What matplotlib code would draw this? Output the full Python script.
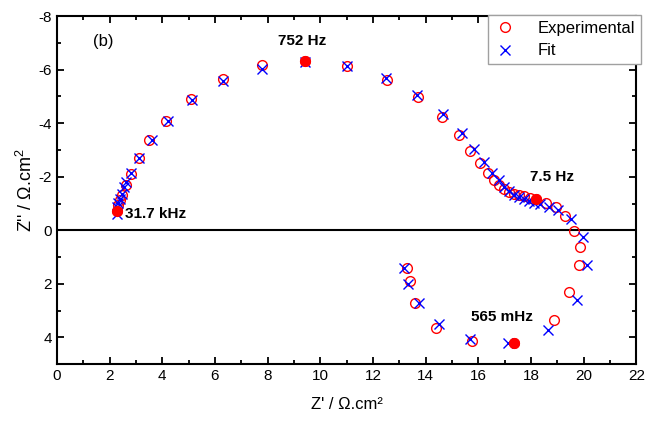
import matplotlib
matplotlib.use("Agg")
import matplotlib.pyplot as plt
from matplotlib.ticker import MultipleLocator

plt.rcParams['font.family'] = ['Liberation Sans', 'DejaVu Sans']
plt.rcParams['axes.unicode_minus'] = False
plt.rcParams['mathtext.fontset'] = 'custom'
plt.rcParams['mathtext.rm'] = 'Liberation Sans'

# Experimental data (Z', Z'')
exp_zr = [2.27, 2.33, 2.39, 2.46, 2.61, 2.80, 3.12, 3.51, 4.14, 5.09, 6.30, 7.79, 9.42,
          11.03, 12.53, 13.73, 14.62, 15.27, 15.69, 16.05, 16.36, 16.58, 16.77, 16.96,
          17.15, 17.34, 17.53, 17.72, 17.97, 18.19, 18.58, 18.96, 19.30, 19.62, 19.85,
          19.83, 19.46, 18.88, 17.37, 15.76, 14.40, 13.60, 13.39, 13.29]
exp_zi = [-0.72, -0.93, -1.12, -1.31, -1.68, -2.12, -2.70, -3.36, -4.10, -4.90, -5.64, -6.17, -6.33,
          -6.14, -5.63, -4.96, -4.24, -3.55, -2.95, -2.52, -2.14, -1.87, -1.68, -1.53,
          -1.43, -1.37, -1.33, -1.27, -1.22, -1.16, -1.02, -0.87, -0.52, 0.02, 0.62,
          1.30, 2.29, 3.36, 4.21, 4.14, 3.64, 2.72, 1.91, 1.41]

# Fit data
fit_zr = [2.27, 2.29, 2.34, 2.39, 2.47, 2.55, 2.62, 2.81, 3.13, 3.60, 4.23, 5.14, 6.32, 7.78,
          9.42, 11.03, 12.50, 13.69, 14.65, 15.37, 15.84, 16.22, 16.54, 16.77, 16.96, 17.15,
          17.34, 17.53, 17.72, 17.93, 18.12, 18.35, 18.67, 19.02, 19.52, 19.97, 20.12, 19.74,
          18.63, 17.12, 15.67, 14.49, 13.75, 13.35, 13.18]
fit_zi = [-0.62, -0.87, -1.01, -1.16, -1.37, -1.61, -1.79, -2.14, -2.70, -3.36, -4.09, -4.86, -5.57, -6.04,
          -6.29, -6.13, -5.69, -5.05, -4.34, -3.65, -3.05, -2.55, -2.14, -1.87, -1.62, -1.47,
          -1.33, -1.25, -1.17, -1.10, -1.03, -0.97, -0.87, -0.77, -0.44, 0.25, 1.31, 2.62,
          3.71, 4.21, 4.05, 3.49, 2.72, 2.02, 1.40]

# Marked frequencies
freq_labels = ["31.7 kHz", "752 Hz", "7.5 Hz", "565 mHz"]
freq_zr = [2.27, 9.42, 18.19, 17.37]
freq_zi = [-0.72, -6.33, -1.16, 4.21]

fig = plt.figure(figsize=(6.46, 4.23), dpi=100)
ax = fig.add_axes([0.088, 0.139, 0.897, 0.823])

ax.axhline(0, color='black', lw=1.5, zorder=1)
ax.plot(exp_zr, exp_zi, 'o', mfc='none', mec='red', ms=7, mew=1.0, label='Experimental', zorder=3)
ax.plot(fit_zr, fit_zi, 'x', color='blue', ms=7, mew=1.0, label='Fit', zorder=4)
ax.plot(freq_zr, freq_zi, 'o', color='red', ms=7, zorder=5)

offsets = [(6, -2, 'left'), (-2, 14, 'center'), (-4, 16, 'left'), (-31, 19, 'left')]
for lab, x, y, (dx, dy, ha) in zip(freq_labels, freq_zr, freq_zi, offsets):
    ax.annotate(lab, (x, y), xytext=(dx, dy), textcoords='offset points', ha=ha, va='center',
                fontsize=11, fontweight='bold')

ax.text(0.062, 0.928, '(b)', transform=ax.transAxes, fontsize=12, va='center', ha='left')

ax.set_xlim(0, 22)
ax.set_ylim(5, -8)
ax.xaxis.set_major_locator(MultipleLocator(2))
ax.xaxis.set_minor_locator(MultipleLocator(1))
ax.yaxis.set_major_locator(MultipleLocator(2))
ax.yaxis.set_minor_locator(MultipleLocator(1))
ax.tick_params(which='both', direction='in', top=True, right=True, width=1.3, labelsize=11)
ax.tick_params(which='major', length=5)
ax.tick_params(which='minor', length=3)
for s in ax.spines.values():
    s.set_linewidth(1.5)

ax.set_xlabel("Z' / Ω.cm²", fontsize=12, labelpad=10)
ax.set_ylabel("Z'' / Ω.cm$^2$", fontsize=13, labelpad=2)

leg = ax.legend(loc='upper right', bbox_to_anchor=(1.008, 1.003), borderaxespad=0,
                fontsize=12, fancybox=False, edgecolor='#a0a0a0', framealpha=1,
                handlelength=1.3, handletextpad=1.3, borderpad=0.35, labelspacing=0.45)
leg.get_frame().set_linewidth(1.0)

fig.savefig('out.png', dpi=100)
